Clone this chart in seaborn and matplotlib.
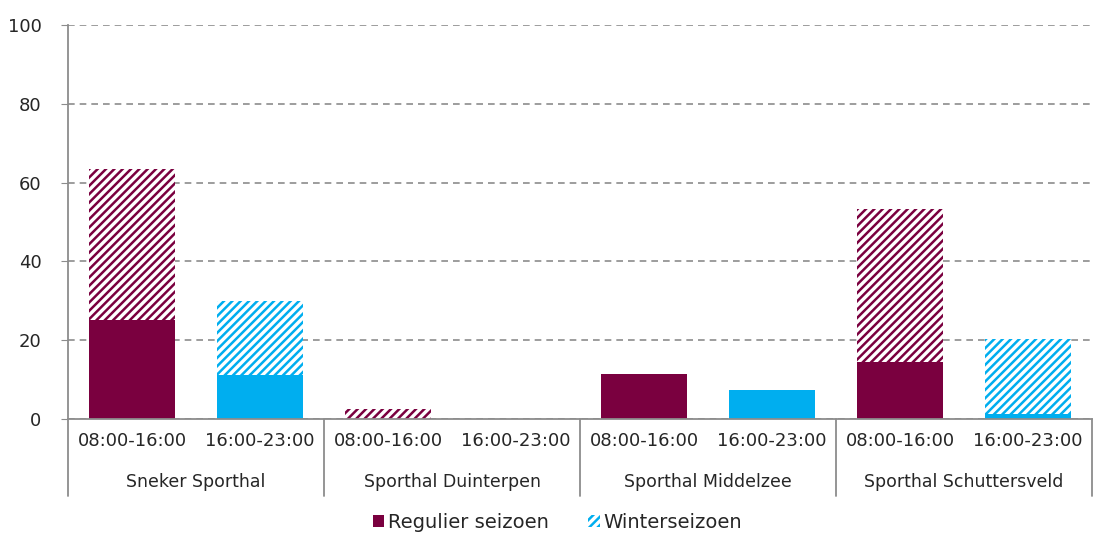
import matplotlib
matplotlib.use("Agg")
import matplotlib.pyplot as plt
from matplotlib.patches import Patch
import matplotlib.transforms as mtransforms
import seaborn as sns
import pandas as pd

# data
halls = ["Sneker Sporthal", "Sporthal Duinterpen", "Sporthal Middelzee", "Sporthal Schuttersveld"]
slots = ["08:00-16:00", "16:00-23:00"]
regulier = [25.1, 11.2, 0.0, 0.0, 11.4, 7.4, 14.5, 1.2]
winter = [38.4, 18.8, 2.5, 0.0, 0.0, 0.0, 38.8, 19.1]

maroon = "#7A003F"
cyan = "#00AEEF"

sns.set_style("white")
plt.rcParams["font.family"] = ["DejaVu Sans"]
plt.rcParams["hatch.linewidth"] = 1.8

rows = []
for i, hall in enumerate(halls):
    for j, slot in enumerate(slots):
        k = i * 2 + j
        rows.append({"pos": f"{k}", "slot": slot, "hall": hall,
                     "regulier": regulier[k], "totaal": regulier[k] + winter[k],
                     "kleur": maroon if j == 0 else cyan})
df = pd.DataFrame(rows)
order = list(df["pos"])
pal = dict(zip(df["pos"], df["kleur"]))

fig = plt.figure(figsize=(10.93, 5.37), dpi=100)
ax = fig.add_axes([0.0622, 0.220, 0.937, 0.733])

# totaal (hatched) first, regulier (solid) on top
sns.barplot(data=df, x="pos", y="totaal", hue="pos", order=order, palette=pal,
            legend=False, width=0.67, ax=ax, saturation=1)
for patch, col in zip(ax.patches, df["kleur"]):
    patch.set_facecolor("white")
    patch.set_edgecolor(col)
    patch.set_hatch("////")
    patch.set_linewidth(0)
n_hatch = len(ax.patches)
sns.barplot(data=df, x="pos", y="regulier", hue="pos", order=order, palette=pal,
            legend=False, width=0.67, ax=ax, saturation=1)
for patch in ax.patches[n_hatch:]:
    patch.set_linewidth(0)

ax.set_xlim(-0.5, 7.5)
ax.set_ylim(0, 100)
ax.set_yticks(range(0, 101, 20))
ax.yaxis.grid(True, linestyle=(0, (4, 3)), color="#8c8c8c", linewidth=1.2)
ax.set_axisbelow(True)
for s in ["top", "right"]:
    ax.spines[s].set_visible(False)
for s in ["left", "bottom"]:
    ax.spines[s].set_color("#8c8c8c")
    ax.spines[s].set_linewidth(1.3)
ax.tick_params(axis="y", left=True, length=5, color="#8c8c8c", labelsize=13, pad=14)
ax.tick_params(axis="x", bottom=False, labelsize=13, pad=6)
ax.set_xticks(range(8))
ax.set_xticklabels(list(df["slot"]))
ax.set_xlabel("")
ax.set_ylabel("")

# group separators and hall labels
trans = mtransforms.blended_transform_factory(ax.transData, ax.transAxes)
for b in [-0.5, 1.5, 3.5, 5.5, 7.5]:
    ax.plot([b, b], [0, -0.195], transform=trans, color="#8c8c8c", lw=1.3, clip_on=False)
for i, hall in enumerate(halls):
    ax.text(i * 2 + 0.5, -0.16, hall, transform=trans, ha="center", va="center", fontsize=12.5)

handles = [Patch(facecolor=maroon, edgecolor=maroon, linewidth=0, label="Regulier seizoen"),
           Patch(facecolor="white", edgecolor=cyan, hatch="////", linewidth=0, label="Winterseizoen")]
fig.legend(handles=handles, loc="center", bbox_to_anchor=(0.51, 0.027), ncol=2, frameon=False,
           fontsize=14, handlelength=0.6, handleheight=0.6, handletextpad=0.2, columnspacing=2.0)

fig.savefig("out.png", dpi=100)
